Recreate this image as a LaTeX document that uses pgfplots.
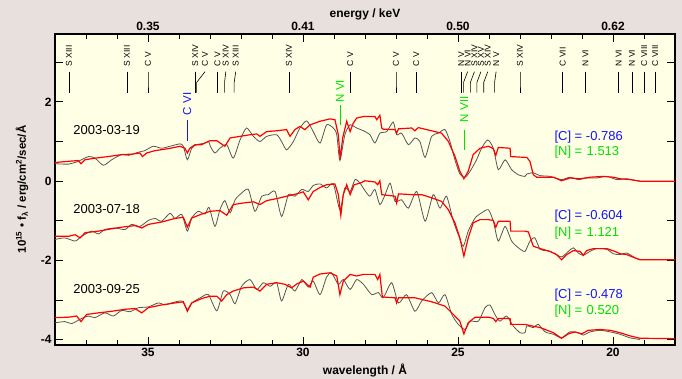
\documentclass[border=0pt]{standalone}
\usepackage{fontspec}
\setmainfont{Liberation Sans}
\usepackage{pgfplots}
\pgfplotsset{compat=1.18}
\definecolor{bgout}{RGB}{232,224,220}
\definecolor{plotbg}{RGB}{255,255,230}
\definecolor{dgray}{RGB}{85,85,85}
\definecolor{lblue}{RGB}{20,20,255}
\definecolor{lgreen}{RGB}{0,225,0}
\newcommand{\linelab}[3]{%
  \draw[black,line width=0.6pt] (axis cs:#1,2.76) -- (axis cs:#2,2.49) -- (axis cs:#2,2.23);
  \node[rotate=90,anchor=west,inner sep=0.5pt,font=\fontsize{8.5}{9}\selectfont] at (axis cs:#1,2.88) {#3};}
\begin{document}
\begin{tikzpicture}
\fill[bgout] (0,0) rectangle (682pt,379pt);
\begin{axis}[at={(55pt,34pt)}, anchor=south west, scale only axis,
  width=620pt, height=311pt, x dir=reverse,
  xmin=18, xmax=38, ymin=-4.13, ymax=3.71,
  axis background/.style={fill=plotbg},
  axis line style={line width=1.2pt},
  every tick/.style={black,line width=0.8pt},
  major tick length=8pt, minor tick length=5pt,
  xtick={20,25,30,35}, minor xtick={19,21,22,23,24,26,27,28,29,31,32,33,34,36,37},
  ytick={-4,-3,-2,-1,0,1,2,3}, yticklabels={-4,{},-2,{},0,{},2,{}},
  /pgf/number format/assume math mode=true,
  ticklabel style={font=\fontsize{12}{14}\selectfont\bfseries},
  xlabel={wavelength / Å},
  xlabel style={at={(axis description cs:0.5,-0.0804)},anchor=center,font=\fontsize{12}{14}\selectfont\bfseries},
  ylabel={10\textsuperscript{15} • f\textsubscript{λ} / erg/cm\textsuperscript{2}/sec/Å},
  ylabel style={at={(axis description cs:-0.0532,0.5)},anchor=center,font=\fontsize{11.5}{13}\selectfont\bfseries},
  clip=false]
% epoch 1 data
\addplot[dgray,line width=0.8pt,smooth,tension=0.4] coordinates {(38.00,0.44)(37.57,0.43)(37.25,0.50)(36.92,0.62)(36.71,0.58)(36.44,0.40)(36.17,0.54)(35.85,0.67)(35.63,0.65)(35.31,0.73)(35.10,0.77)(34.83,0.88)(34.56,0.83)(34.29,0.88)(33.97,0.94)(33.86,0.88)(33.73,0.54)(33.59,0.83)(33.43,0.92)(33.16,0.96)(33.05,1.00)(32.97,0.85)(32.84,0.71)(32.68,0.83)(32.46,0.92)(32.25,0.58)(32.03,1.04)(31.82,1.34)(31.60,1.13)(31.39,1.00)(31.17,1.13)(30.85,1.17)(30.69,1.00)(30.53,0.79)(30.31,1.00)(30.10,1.34)(29.88,1.52)(29.67,1.25)(29.45,0.96)(29.24,1.42)(29.02,1.34)(28.91,1.17)(28.81,0.52)(28.65,1.17)(28.48,1.42)(28.27,1.34)(28.05,1.27)(27.84,1.17)(27.68,0.96)(27.52,1.21)(27.30,1.25)(27.09,1.49)(26.98,1.17)(26.82,1.21)(26.60,0.92)(26.39,1.09)(26.23,1.00)(26.06,0.60)(25.85,1.13)(25.63,1.21)(25.42,1.30)(25.26,1.00)(25.10,0.54)(24.94,0.18)(24.77,0.10)(24.61,0.25)(24.40,0.54)(24.24,0.83)(24.04,1.04)(23.86,0.83)(23.70,0.29)(23.48,0.54)(23.27,0.29)(23.05,0.16)(22.84,0.12)(22.78,0.18)(22.57,0.21)(22.35,0.14)(22.03,0.12)(21.66,0.04)(21.39,0.10)(21.12,0.04)(20.85,0.08)(20.53,0.08)(20.20,0.12)(19.88,0.04)(19.56,0.06)(19.29,0.02)(19.13,0.00)};
% epoch 2 data
\addplot[dgray,line width=0.8pt,smooth,tension=0.4] coordinates {(38.00,-1.47)(37.68,-1.43)(37.35,-1.51)(37.14,-1.39)(36.82,-1.26)(36.60,-1.33)(36.39,-1.22)(36.06,-1.18)(35.74,-1.22)(35.53,-1.09)(35.26,-1.14)(34.99,-0.99)(34.77,-0.94)(34.56,-1.01)(34.29,-0.81)(34.13,-0.94)(33.91,-0.84)(33.73,-1.26)(33.59,-0.93)(33.38,-0.76)(33.16,-0.83)(33.03,-0.66)(32.84,-1.14)(32.68,-0.72)(32.52,-0.49)(32.35,-0.80)(32.19,-0.47)(31.98,-0.30)(31.76,-0.21)(31.55,-0.76)(31.33,-0.38)(31.12,-0.34)(30.90,-0.26)(30.69,-0.89)(30.47,-0.34)(30.26,-0.38)(30.04,-0.21)(29.83,-0.26)(29.67,-0.11)(29.45,-0.07)(29.24,-0.17)(29.02,-0.07)(28.81,-0.72)(28.65,-0.17)(28.48,-0.26)(28.32,0.04)(28.16,-0.05)(28.00,-0.24)(27.84,-0.38)(27.68,-0.21)(27.52,-0.59)(27.35,-0.34)(27.19,-0.05)(27.03,-0.51)(26.82,-0.47)(26.60,-0.68)(26.33,-0.26)(26.06,-1.01)(25.80,-0.34)(25.58,-0.68)(25.37,-0.38)(25.15,-1.01)(24.99,-1.35)(24.83,-1.64)(24.67,-1.26)(24.45,-0.93)(24.24,-0.80)(24.02,-0.72)(23.86,-1.01)(23.70,-1.51)(23.48,-1.14)(23.27,-1.51)(23.05,-1.68)(22.84,-1.77)(22.68,-1.51)(22.52,-1.43)(22.35,-1.72)(22.14,-1.75)(21.92,-1.81)(21.66,-1.91)(21.44,-1.77)(21.28,-1.68)(21.12,-1.81)(20.96,-1.87)(20.74,-1.77)(20.53,-1.70)(20.20,-1.72)(19.99,-1.83)(19.77,-1.85)(19.56,-1.81)(19.29,-1.93)(19.13,-1.98)};
% epoch 3 data
\addplot[dgray,line width=0.8pt,smooth,tension=0.4] coordinates {(38.00,-3.57)(37.68,-3.54)(37.46,-3.59)(37.14,-3.46)(36.92,-3.40)(36.71,-3.44)(36.39,-3.32)(36.12,-3.40)(35.85,-3.26)(35.58,-3.29)(35.31,-3.19)(34.99,-3.17)(34.67,-3.07)(34.45,-3.12)(34.24,-3.07)(33.91,-3.02)(33.73,-3.23)(33.59,-3.07)(33.27,-2.92)(33.05,-2.86)(32.78,-3.27)(32.57,-2.77)(32.35,-2.86)(32.19,-3.09)(31.98,-2.65)(31.71,-2.48)(31.49,-2.73)(31.28,-2.56)(31.06,-2.65)(30.85,-2.56)(30.69,-3.02)(30.47,-2.60)(30.26,-2.77)(30.04,-2.48)(29.83,-2.67)(29.67,-2.52)(29.45,-2.86)(29.24,-2.42)(29.08,-2.31)(28.86,-2.60)(28.70,-2.48)(28.48,-2.73)(28.27,-2.48)(28.05,-2.60)(28.00,-2.65)(27.78,-2.86)(27.57,-2.81)(27.41,-2.94)(27.14,-2.56)(26.92,-3.07)(26.66,-2.86)(26.39,-3.28)(26.17,-3.02)(25.85,-2.81)(25.63,-3.07)(25.42,-2.86)(25.20,-3.36)(24.99,-3.61)(24.77,-3.74)(24.61,-3.53)(24.34,-3.53)(24.13,-3.19)(23.97,-3.12)(23.81,-3.36)(23.65,-3.53)(23.43,-3.40)(23.22,-3.65)(23.00,-3.82)(22.84,-3.82)(22.78,-3.65)(22.57,-3.69)(22.41,-3.61)(22.19,-3.80)(21.92,-3.86)(21.66,-3.95)(21.39,-3.80)(21.12,-3.82)(20.96,-3.88)(20.74,-3.80)(20.42,-3.76)(20.09,-3.80)(19.77,-3.86)(19.45,-3.95)(19.13,-3.99)};
% epoch 1 model
\addplot[red,line width=1.2pt] coordinates {(38.00,0.47)(37.57,0.50)(37.25,0.52)(37.16,0.44)(37.03,0.54)(36.71,0.58)(36.28,0.62)(35.85,0.67)(35.53,0.68)(35.26,0.71)(35.18,0.62)(35.04,0.71)(34.77,0.77)(34.34,0.82)(33.97,0.88)(33.81,0.83)(33.73,0.71)(33.65,0.83)(33.48,0.92)(33.27,0.92)(33.11,0.98)(33.00,1.02)(32.78,1.02)(32.52,0.88)(32.35,1.09)(32.03,1.13)(31.71,1.17)(31.49,1.19)(31.39,1.13)(31.17,1.25)(30.85,1.27)(30.53,1.30)(30.42,1.13)(30.26,1.30)(30.10,1.38)(29.94,1.30)(29.77,1.42)(29.45,1.51)(29.13,1.57)(28.97,1.55)(28.86,1.17)(28.80,0.56)(28.72,1.09)(28.59,1.51)(28.48,1.25)(28.38,1.46)(28.27,1.59)(28.05,1.63)(27.68,1.63)(27.62,1.55)(27.52,1.66)(27.46,1.34)(27.41,1.31)(27.03,1.30)(26.98,1.21)(26.92,1.32)(26.49,1.34)(26.39,1.27)(26.28,1.35)(25.85,1.27)(25.53,1.21)(25.31,1.00)(25.10,0.63)(24.94,0.25)(24.81,0.06)(24.67,0.25)(24.51,0.67)(24.29,0.83)(24.02,0.88)(23.86,0.82)(23.78,0.65)(23.70,0.85)(23.32,0.83)(23.30,0.62)(22.84,0.60)(22.78,0.60)(22.68,0.50)(22.57,0.16)(22.46,0.10)(21.92,0.10)(21.66,0.01)(21.39,0.08)(21.06,0.06)(20.74,0.10)(20.31,0.12)(19.99,0.10)(19.77,0.06)(19.45,0.04)(19.13,0.00)(18.00,0.00)};
% epoch 2 model
\addplot[red,line width=1.2pt] coordinates {(38.00,-1.39)(37.57,-1.39)(37.35,-1.35)(37.19,-1.43)(37.03,-1.30)(36.60,-1.26)(36.17,-1.20)(35.85,-1.16)(35.42,-1.12)(35.20,-1.18)(34.99,-1.09)(34.56,-1.03)(34.13,-0.94)(33.86,-0.91)(33.73,-1.16)(33.59,-0.93)(33.27,-0.83)(33.00,-0.76)(32.68,-0.74)(32.46,-0.86)(32.25,-0.59)(31.92,-0.55)(31.60,-0.52)(31.39,-0.59)(31.17,-0.49)(30.85,-0.44)(30.53,-0.38)(30.20,-0.32)(29.99,-0.27)(29.83,-0.47)(29.67,-0.26)(29.45,-0.16)(29.24,-0.09)(28.97,-0.07)(28.86,-0.34)(28.78,-0.86)(28.70,-0.34)(28.59,-0.09)(28.48,-0.34)(28.35,-0.09)(28.16,-0.05)(28.00,0.01)(27.68,-0.02)(27.59,-0.09)(27.52,0.01)(27.46,-0.34)(27.03,-0.38)(26.98,-0.55)(26.92,-0.32)(26.49,-0.34)(26.17,-0.34)(25.85,-0.42)(25.53,-0.51)(25.31,-0.72)(25.10,-1.05)(24.94,-1.43)(24.81,-1.89)(24.67,-1.43)(24.51,-1.05)(24.29,-0.97)(24.02,-0.97)(23.86,-0.99)(23.78,-1.16)(23.70,-1.01)(23.32,-1.01)(23.30,-1.26)(22.84,-1.26)(22.73,-1.28)(22.57,-1.64)(22.35,-1.70)(22.03,-1.77)(21.82,-1.85)(21.66,-1.98)(21.49,-1.85)(21.28,-1.75)(21.06,-1.77)(20.96,-1.87)(20.85,-1.75)(20.63,-1.70)(20.20,-1.70)(19.94,-1.77)(19.77,-1.83)(19.56,-1.85)(19.34,-1.92)(19.13,-1.98)(18.00,-1.98)};
% epoch 3 model
\addplot[red,line width=1.2pt] coordinates {(38.00,-3.44)(37.57,-3.43)(37.30,-3.40)(37.16,-3.54)(36.98,-3.36)(36.60,-3.32)(36.17,-3.28)(35.74,-3.23)(35.42,-3.21)(35.20,-3.32)(34.99,-3.19)(34.56,-3.12)(34.13,-3.07)(33.86,-3.04)(33.73,-3.28)(33.59,-3.07)(33.27,-2.96)(33.00,-2.90)(32.78,-2.90)(32.62,-3.02)(32.46,-2.86)(32.25,-2.77)(31.92,-2.69)(31.60,-2.67)(31.39,-2.77)(31.17,-2.60)(30.85,-2.56)(30.58,-2.60)(30.37,-2.69)(30.20,-2.59)(29.99,-2.52)(29.77,-2.67)(29.67,-2.42)(29.45,-2.34)(29.13,-2.31)(28.91,-2.39)(28.81,-2.86)(28.70,-2.52)(28.48,-2.35)(28.27,-2.39)(28.05,-2.35)(27.68,-2.35)(27.59,-2.48)(27.52,-2.35)(27.44,-2.92)(27.03,-2.94)(26.98,-3.07)(26.92,-2.94)(26.39,-2.94)(25.85,-3.04)(25.42,-3.15)(25.15,-3.36)(24.94,-3.53)(24.81,-3.85)(24.67,-3.57)(24.45,-3.43)(24.02,-3.43)(23.86,-3.46)(23.78,-3.54)(23.70,-3.46)(23.32,-3.46)(23.30,-3.61)(22.84,-3.61)(22.68,-3.64)(22.35,-3.69)(21.92,-3.82)(21.66,-3.96)(21.44,-3.85)(21.23,-3.80)(21.01,-3.85)(20.80,-3.76)(20.42,-3.74)(20.09,-3.76)(19.77,-3.82)(19.45,-3.90)(19.13,-3.96)(18.00,-3.97)};
% dates
\node[anchor=west,font=\fontsize{13}{15}\selectfont] at (axis cs:37.52,1.30) {2003-03-19};
\node[anchor=west,font=\fontsize{13}{15}\selectfont] at (axis cs:37.52,-0.69) {2003-07-18};
\node[anchor=west,font=\fontsize{13}{15}\selectfont] at (axis cs:37.52,-2.71) {2003-09-25};
% abundances
\node[anchor=west,font=\fontsize{13}{15}\selectfont,text=lblue] at (axis cs:22.0,1.12) {[C] = -0.786};
\node[anchor=west,font=\fontsize{13}{15}\selectfont,text=lgreen] at (axis cs:22.0,0.72) {[N] =\hphantom{-}1.513};
\node[anchor=west,font=\fontsize{13}{15}\selectfont,text=lblue] at (axis cs:22.0,-0.89) {[C] = -0.604};
\node[anchor=west,font=\fontsize{13}{15}\selectfont,text=lgreen] at (axis cs:22.0,-1.30) {[N] =\hphantom{-}1.121};
\node[anchor=west,font=\fontsize{13}{15}\selectfont,text=lblue] at (axis cs:22.0,-2.88) {[C] = -0.478};
\node[anchor=west,font=\fontsize{13}{15}\selectfont,text=lgreen] at (axis cs:22.0,-3.28) {[N] =\hphantom{-}0.520};
% coloured line ids
\draw[lblue,line width=0.7pt] (axis cs:33.74,1.55) -- (axis cs:33.74,1.00);
\node[rotate=90,anchor=west,inner sep=0.5pt,text=lblue,font=\fontsize{11.5}{12}\selectfont] at (axis cs:33.74,1.65) {C VI};
\draw[lgreen,line width=0.7pt] (axis cs:28.81,1.92) -- (axis cs:28.81,1.42);
\node[rotate=90,anchor=west,inner sep=0.5pt,text=lgreen,font=\fontsize{11.5}{12}\selectfont] at (axis cs:28.81,1.97) {N VI};
\draw[lgreen,line width=0.7pt] (axis cs:24.80,1.30) -- (axis cs:24.80,0.79);
\node[rotate=90,anchor=west,inner sep=0.5pt,text=lgreen,font=\fontsize{11.5}{12}\selectfont] at (axis cs:24.80,1.47) {N VII};
% black line ids
\linelab{37.55}{37.55}{S XIII}
\linelab{35.68}{35.68}{S XIII}
\linelab{35.00}{35.00}{C V}
\linelab{33.48}{33.48}{S XIV}
\linelab{33.16}{33.43}{C V}
\linelab{32.76}{32.76}{C V}
\linelab{32.49}{32.53}{S XIV}
\linelab{32.17}{32.22}{S XIII}
\linelab{30.45}{30.45}{S XIV}
\linelab{28.48}{28.48}{C V}
\linelab{27.00}{27.00}{C V}
\linelab{26.35}{26.35}{C V}
\linelab{24.90}{24.90}{N V}
\linelab{24.69}{24.82}{N VI}
\linelab{24.47}{24.60}{S XIV}
\linelab{24.26}{24.39}{S XV}
\linelab{24.04}{24.17}{S XIV}
\linelab{23.77}{23.82}{N V}
\linelab{23.00}{23.00}{S XIV}
\linelab{21.62}{21.62}{C VII}
\linelab{20.89}{20.89}{N VI}
\linelab{19.82}{19.82}{N VI}
\linelab{19.39}{19.39}{N VI}
\linelab{18.99}{18.99}{C VIII}
\linelab{18.64}{18.64}{C VIII}
\end{axis}
\begin{axis}[at={(55pt,34pt)}, anchor=south west, scale only axis,
  width=620pt, height=311pt, x dir=reverse,
  xmin=18, xmax=38, ymin=-4.13, ymax=3.71,
  hide y axis, axis x line*=top, axis line style={line width=1.2pt},
  xtick={20,25,30,35}, xticklabels={0.62,0.50,0.41,0.35},
  xtick style={draw=none},
  ticklabel style={font=\fontsize{12}{14}\selectfont\bfseries},
  xlabel={energy / keV},
  xlabel style={at={(axis description cs:0.5,1.064)},anchor=center,font=\fontsize{12}{14}\selectfont\bfseries}]
\end{axis}
\pgfresetboundingbox
\useasboundingbox (0,0) rectangle (682pt,379pt);
\end{tikzpicture}
\end{document}
